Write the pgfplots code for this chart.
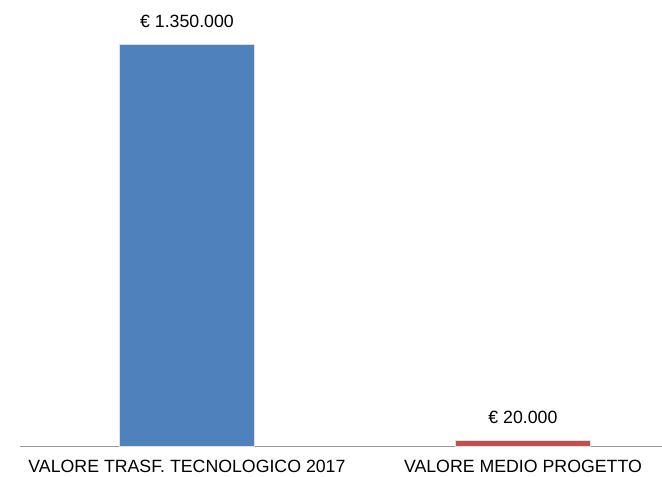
\documentclass[border=0pt]{standalone}
\usepackage{fontspec}
\setmainfont{Liberation Sans}
\usepackage{pgfplots}
\pgfplotsset{compat=1.18}
\definecolor{cblue}{HTML}{4F81BD}
\definecolor{cred}{HTML}{C0504D}
\begin{document}
\begin{tikzpicture}
\begin{axis}[
  name=ax,
  scale only axis,
  width=642bp, height=446bp,
  xmin=-0.497, xmax=1.414,
  ymin=0, ymax=1497761,
  axis y line=none,
  axis x line*=bottom,
  x axis line style={draw=gray!80, line width=0.8pt, -},
  xtick={0,1},
  xticklabels={VALORE TRASF. TECNOLOGICO 2017, VALORE MEDIO PROGETTO},
  major tick length=0pt,
  xticklabel style={font=\fontsize{17.8}{21}\selectfont, yshift=-11bp},
  ybar, bar width=0.4, bar shift=0pt,
  nodes near coords,
  point meta=explicit symbolic,
  every node near coord/.append style={font=\fontsize{17.8}{21}\selectfont, text=black, yshift=13bp},
  clip=false,
]
\addplot[fill=cblue, draw=gray!25, line width=0.6pt] coordinates {(0,1350000) [€ 1.350.000]};
\addplot[fill=cred, draw=gray!25, line width=0.6pt] coordinates {(1,20000) [€ 20.000]};
\end{axis}
\pgfresetboundingbox
\useasboundingbox ([xshift=-20bp,yshift=-31bp]ax.south west) rectangle (ax.north east);
\end{tikzpicture}
\end{document}
